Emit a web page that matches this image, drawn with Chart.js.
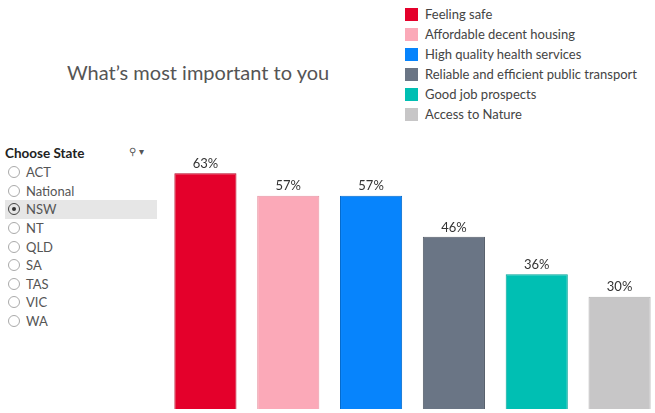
<!DOCTYPE html>
<html><head><meta charset="utf-8">
<script src="https://cdn.jsdelivr.net/npm/chart.js@4"></script>
<style>
html,body{margin:0;padding:0;width:655px;height:413px;overflow:hidden;background:#fff;font-family:Lato,"Open Sans",sans-serif;}
#title{position:absolute;left:67px;top:60px;font-size:20px;color:#555;white-space:nowrap;}
#legend{position:absolute;left:405px;top:4px;}
.li{height:20px;display:flex;align-items:center;font-size:13px;color:#444;white-space:nowrap;}
.sw{width:13px;height:13px;margin-right:7px;box-sizing:border-box;}
#filter{position:absolute;left:5px;top:145px;width:152px;}
#ftitle{font-weight:bold;font-size:13.5px;color:#222;height:18px;position:relative;}
#ftitle .ic{position:absolute;left:124px;top:0;font-weight:normal;font-size:10px;color:#555;}
.opt{height:18.6px;display:flex;align-items:center;font-size:13px;color:#555;}
.opt.sel{background:#e6e6e6;}
.rad{width:12px;height:12px;border:1px solid #aaa;border-radius:50%;margin:0 6px 0 3px;box-sizing:border-box;position:relative;}
.sel .rad{border-color:#444;}
.sel .rad::after{content:"";position:absolute;left:3px;top:3px;width:4px;height:4px;border-radius:50%;background:#333;}
#wrap{position:absolute;left:164px;top:150px;width:497px;height:259px;}
</style></head>
<body>
<div id="title">What’s most important to you</div>
<div id="legend"></div>
<div id="filter"><div id="ftitle">Choose State<span class="ic">⚲ ▾</span></div><div id="opts"></div></div>
<div id="wrap"><canvas id="c"></canvas></div>
<script>
const categories = ["Feeling safe","Affordable decent housing","High quality health services","Reliable and efficient public transport","Good job prospects","Access to Nature"];
const values = [63,57,57,46,36,30];
const colors = ["#E4002B","#FBA9B8","#0784FC","#6A7585","#00BFB3","#C7C6C7"];
const borders = ["#B80022","#E896A5","#0069CC","#555E6A","#00A398","#B3B2B3"];
const states = ["ACT","National","NSW","NT","QLD","SA","TAS","VIC","WA"];
const selectedState = "NSW";

const lg = document.getElementById('legend');
categories.forEach((c,i)=>{
  const d=document.createElement('div');d.className='li';
  d.innerHTML='<span class="sw" style="background:'+colors[i]+'"></span>'+c;
  lg.appendChild(d);
});
const op = document.getElementById('opts');
states.forEach(s=>{
  const d=document.createElement('div');d.className='opt'+(s===selectedState?' sel':'');
  d.innerHTML='<span class="rad"></span>'+s;
  op.appendChild(d);
});

const labelPlugin = {
  id:'lbl',
  afterDatasetsDraw(chart){
    const ctx=chart.ctx;
    const meta=chart.getDatasetMeta(0);
    ctx.save();
    ctx.font='13px Lato, "Open Sans", sans-serif';
    ctx.fillStyle='#333';
    ctx.textAlign='center';
    ctx.textBaseline='bottom';
    meta.data.forEach((b,i)=>{
      ctx.fillText(values[i]+'%', b.x, b.y-3);
    });
    ctx.restore();
  }
};

new Chart(document.getElementById('c'),{
  type:'bar',
  data:{labels:categories,datasets:[{data:values,backgroundColor:colors,borderColor:borders,borderWidth:1,barPercentage:0.75,categoryPercentage:1}]},
  options:{
    responsive:true,maintainAspectRatio:false,animation:false,
    layout:{padding:0},
    plugins:{legend:{display:false},tooltip:{enabled:false}},
    scales:{
      x:{display:false},
      y:{display:false,min:0,max:69.2}
    }
  },
  plugins:[labelPlugin]
});
</script>
</body></html>
